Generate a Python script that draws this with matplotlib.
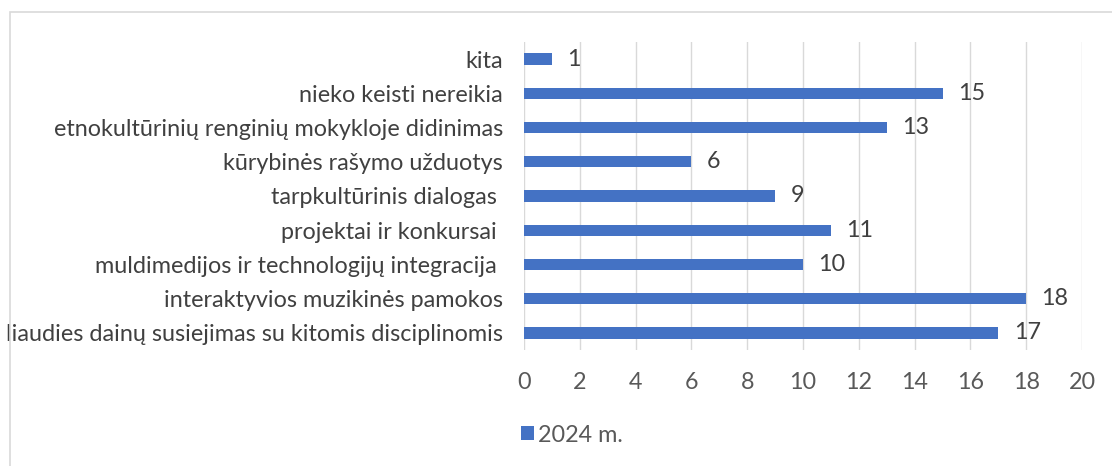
import matplotlib.pyplot as plt
import matplotlib.patches as patches

categories = [
    "liaudies dainų susiejimas su kitomis disciplinomis",
    "interaktyvios muzikinės pamokos",
    "muldimedijos ir technologijų integracija ",
    "projektai ir konkursai ",
    "tarpkultūrinis dialogas ",
    "kūrybinės rašymo užduotys",
    "etnokultūrinių renginių mokykloje didinimas",
    "nieko keisti nereikia",
    "kita",
]
values = [17, 18, 10, 11, 9, 6, 13, 15, 1]
series_name = "2024 m."
x_ticks = list(range(0, 21, 2))

plt.rcParams['font.family'] = ['Lato', 'DejaVu Sans']
fs = 16.8

W, H = 1112, 466
fig = plt.figure(figsize=(W / 100, H / 100), dpi=100)

# axes box in pixels: left 524, right 1082, top 42, bottom 350
ax = fig.add_axes([524 / W, 1 - 350 / H, (1082 - 524) / W, (350 - 42) / H])

bar_color = '#4472C4'
ypos = list(range(len(categories)))
bars = ax.barh(ypos, values, height=0.33, color=bar_color, label=series_name, zorder=3)

for y, v in zip(ypos, values):
    ax.text(v + 0.55, y, str(v), va='center', ha='left', fontsize=fs, color='#404040')

ax.set_xlim(0, 20)
ax.set_ylim(-0.5, len(categories) - 0.5)
ax.set_xticks(x_ticks)
ax.set_yticks(ypos)
ax.set_yticklabels(categories, fontsize=fs, color='#404040')
ax.tick_params(axis='x', labelsize=fs, labelcolor='#595959', length=0, pad=16)
ax.tick_params(axis='y', length=0, pad=15)
ax.xaxis.grid(True, color='#D9D9D9', linewidth=1, zorder=0)
for s in ax.spines.values():
    s.set_visible(False)

fig.legend(handles=[bars], labels=[series_name], loc='center left',
           bbox_to_anchor=(500 / W, 1 - 435 / H), frameon=False,
           fontsize=fs, labelcolor='#595959', handlelength=0.55,
           handleheight=0.55, handletextpad=0.2)

# chart-area border
fig.add_artist(patches.Rectangle((10 / W, -0.1), 1.2, 1 - 12 / H + 0.1,
                                 transform=fig.transFigure, fill=False,
                                 edgecolor='#D9D9D9', linewidth=1.2))

fig.savefig('out.png', dpi=100)
